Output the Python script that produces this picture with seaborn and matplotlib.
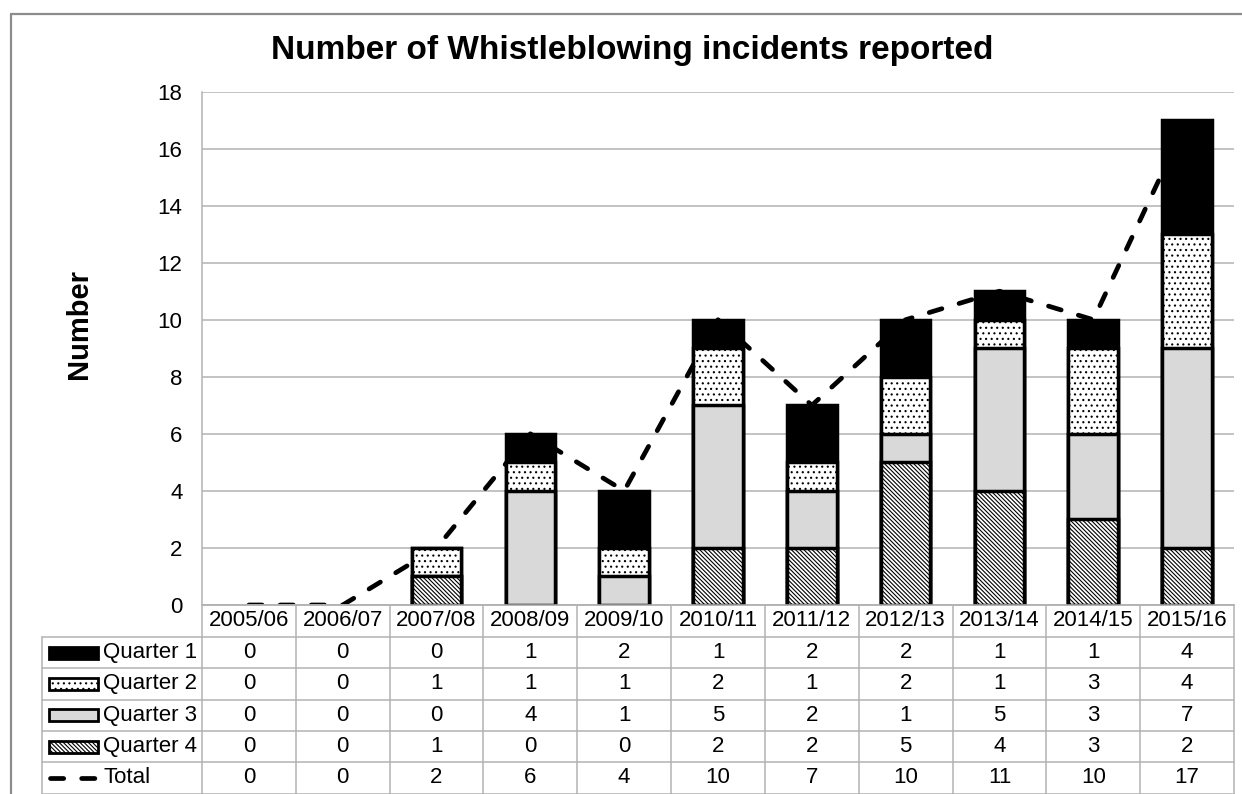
"""
Number of whistleblowing incidents reported, stacked by quarter,
with an Excel-style data table under the chart.
"""

import numpy as np
import matplotlib.pyplot as plt
import seaborn as sns
from matplotlib.patches import Rectangle
from matplotlib.lines import Line2D

years = ["2005/06", "2006/07", "2007/08", "2008/09", "2009/10", "2010/11",
         "2011/12", "2012/13", "2013/14", "2014/15", "2015/16"]
quarter_1 = [0, 0, 0, 1, 2, 1, 2, 2, 1, 1, 4]
quarter_2 = [0, 0, 1, 1, 1, 2, 1, 2, 1, 3, 4]
quarter_3 = [0, 0, 0, 4, 1, 5, 2, 1, 5, 3, 7]
quarter_4 = [0, 0, 1, 0, 0, 2, 2, 5, 4, 3, 2]
totals = [0, 0, 2, 6, 4, 10, 7, 10, 11, 10, 17]
y_ticks = list(range(0, 19, 2))

series_names = ["Quarter 1", "Quarter 2", "Quarter 3", "Quarter 4"]
series_values = [quarter_1, quarter_2, quarter_3, quarter_4]
styles = {
    "Quarter 1": ("black", ""),
    "Quarter 2": ("white", "..."),
    "Quarter 3": ("#d9d9d9", ""),
    "Quarter 4": ("white", "\\" * 8),
}

sns.set_theme(style="white")
plt.rcParams["font.family"] = ["Liberation Sans", "DejaVu Sans"]
plt.rcParams["text.color"] = "black"
plt.rcParams["hatch.linewidth"] = 0.8

W, H = 1242, 794
GRID = "#b3b3b3"
DASH = (0, (2.8, 3.8))
LINE_W = 3.4

fig = plt.figure(figsize=(W / 100, H / 100), dpi=100)

# outer chart frame (right and bottom sides are cut off in the original)
fig.add_artist(Line2D([11 / W, 11 / W], [0, 1 - 14 / H], transform=fig.transFigure,
                      color="#8c8c8c", lw=1.6))
fig.add_artist(Line2D([11 / W, 1], [1 - 14 / H, 1 - 14 / H], transform=fig.transFigure,
                      color="#8c8c8c", lw=1.6))

plot_left, plot_right, plot_top, plot_bottom = 202, 1234, 91.5, 605
ax = fig.add_axes([plot_left / W, 1 - plot_bottom / H,
                   (plot_right - plot_left) / W, (plot_bottom - plot_top) / H])

# stack bottom -> top is Q4, Q3, Q2, Q1; draw cumulative heights largest first
stack = np.zeros(len(years))
heights = {}
for name, vals in reversed(list(zip(series_names, series_values))):
    stack = stack + np.array(vals)
    heights[name] = stack.copy()

for name in series_names:
    face, hatch = styles[name]
    sns.barplot(x=years, y=heights[name], color=face, saturation=1, width=0.53,
                edgecolor="black", linewidth=2.5, hatch=hatch, errorbar=None,
                ax=ax, zorder=3)

for p in ax.patches:
    if p.get_height() == 0:
        p.set_visible(False)

sns.lineplot(x=np.arange(len(years)), y=totals, ax=ax, color="black",
             lw=LINE_W, linestyle=DASH, dash_capstyle="round", zorder=2)

ax.set_xlim(-0.5, len(years) - 0.5)
ax.set_ylim(0, 18)
ax.set_yticks(y_ticks)
ax.set_xticks([])
ax.set_xlabel("")
ax.set_ylabel("")
ax.tick_params(axis="y", length=0, pad=14, labelsize=16, labelcolor="black")
ax.yaxis.grid(True, color=GRID, lw=1.1)
ax.set_axisbelow(True)
for side in ["top", "right"]:
    ax.spines[side].set_visible(False)
ax.spines["left"].set_color(GRID)
ax.spines["bottom"].set_color(GRID)
ax.spines["left"].set_linewidth(1.1)
ax.spines["bottom"].set_linewidth(1.1)

fig.text(632 / W, 1 - 50 / H, "Number of Whistleblowing incidents reported",
         ha="center", va="center", fontsize=24, fontweight="bold")
fig.text(79 / W, 1 - 324 / H, "Number", rotation=90, ha="center", va="center",
         fontsize=21, fontweight="bold")

# data table under the plot, sharing the category scale of the bars
unit = (plot_right - plot_left) / len(years)
table_left = 42
table_h = H - plot_bottom
xmin = -0.5 - (plot_left - table_left) / unit
xmax = len(years) - 0.5
tax = fig.add_axes([table_left / W, 0, (plot_right - table_left) / W, table_h / H])
tax.set_xlim(xmin, xmax)
tax.set_ylim(table_h, 0)
tax.axis("off")

row_edges = [0, 32, 63, 94.5, 126, 157, 188.5]
line_kw = dict(color=GRID, lw=1.1, clip_on=False)
tax.plot([-0.5, xmax], [0, 0], **line_kw)
for r in row_edges[1:]:
    tax.plot([xmin, xmax], [r, r], **line_kw)
for i in range(len(years) + 1):
    tax.plot([i - 0.5, i - 0.5], [0, row_edges[-1]], **line_kw)
tax.plot([xmin, xmin], [row_edges[1], row_edges[-1]], **line_kw)

for i, yr in enumerate(years):
    tax.text(i, (row_edges[0] + row_edges[1]) / 2, yr, ha="center", va="center", fontsize=16)

row_names = series_names + ["Total"]
row_values = series_values + [totals]
for k, (name, vals) in enumerate(zip(row_names, row_values)):
    yc = (row_edges[k + 1] + row_edges[k + 2]) / 2
    for i, v in enumerate(vals):
        tax.text(i, yc, str(v), ha="center", va="center", fontsize=16)
    tax.text(xmin + 61 / unit, yc, name, ha="left", va="center", fontsize=16)
    if name in styles:
        face, hatch = styles[name]
        tax.add_patch(Rectangle((xmin + 7 / unit, yc - 6), 49 / unit, 12,
                                facecolor=face, edgecolor="black", hatch=hatch, lw=2.0))
    else:
        tax.plot([xmin + 8 / unit, xmin + 56 / unit], [yc, yc], color="black",
                 lw=LINE_W, linestyle=DASH, dash_capstyle="round")

fig.savefig("out.png", dpi=100)
